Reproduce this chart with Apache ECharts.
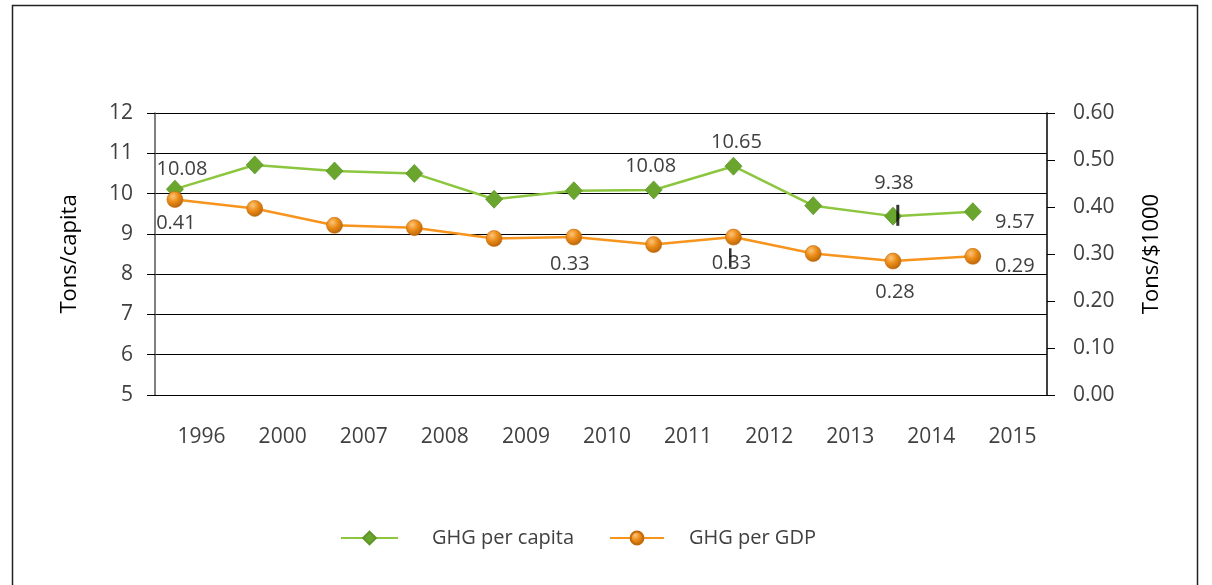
<!DOCTYPE html>
<html>
<head>
<meta charset="utf-8">
<script src="https://cdn.jsdelivr.net/npm/echarts@6/dist/echarts.min.js"></script>
<style>
html,body{margin:0;padding:0;background:#fff;}
#chart{width:1212px;height:585px;}
</style>
</head>
<body>
<div id="chart"></div>
<script>
// ---- data ----
const years = ['1996','2000','2007','2008','2009','2010','2011','2012','2013','2014','2015'];
const ghgPerCapita = [10.11, 10.71, 10.56, 10.50, 9.86, 10.07, 10.09, 10.68, 9.70, 9.44, 9.55];
const ghgPerGdp = [0.416, 0.397, 0.361, 0.356, 0.333, 0.336, 0.320, 0.336, 0.301, 0.285, 0.295];
const capitaLabels = ['10.08','','','','','','10.08','10.65','','9.38','9.57'];
const gdpLabels = ['0.41','','','','','0.33','','0.33','','0.28','0.29'];
const leftTicks = [5, 12, 1];
const rightTicks = [0, 0.6, 0.1];
// small black cursor marks visible in the source image (in data coordinates)
const capitaCursor = [[9.06, 9.46]];
const gdpCursor = [[6.96, 0.292]];

// ---- label placement (style, not data) ----
const capitaLabelOffset = {0:[7,-20], 6:[-3,-24], 7:[3,-24], 9:[1,-33], 10:[42,11]};
const gdpLabelOffset = {0:[1,24], 5:[-4,27], 7:[-2,26], 9:[2,31], 10:[42,10]};

const FONT = '"Open Sans", "Noto Sans", sans-serif';
const TXT = '#404040';

function buildData(values, labels, offsets){
  return values.map((v,i)=>{
    const item = {value:[i, v]};
    if (labels[i]) {
      item.label = {show:true, formatter:labels[i], position:'inside', offset:offsets[i],
        color:TXT, fontSize:20, fontFamily:FONT};
    }
    return item;
  });
}

const orangeBall = {type:'radial', x:0.38, y:0.32, r:0.75, colorStops:[
  {offset:0, color:'#fcc57a'},{offset:0.45, color:'#ec8c17'},{offset:1, color:'#b15f08'}]};

const chart = echarts.init(document.getElementById('chart'), null, {renderer:'canvas'});
chart.setOption({
  animation:false,
  backgroundColor:'#fff',
  graphic:[{type:'rect', shape:{x:12.5, y:5.5, width:1185, height:600},
    style:{fill:'none', stroke:'#222', lineWidth:1.5}, silent:true, z:-1}],
  grid:{left:155, right:165, top:113, bottom:190},
  legend:[{
    data:['GHG per capita'],
    left:335, top:523, itemWidth:57, itemHeight:16,
    textStyle:{color:TXT, fontSize:20, fontFamily:FONT, padding:[0,0,0,29]}
  },{
    data:['GHG per GDP'],
    left:604, top:523, itemWidth:54, itemHeight:16,
    textStyle:{color:TXT, fontSize:20, fontFamily:FONT, padding:[0,0,0,20]}
  }],
  xAxis:[{
    type:'category', data:years, boundaryGap:true,
    axisLine:{show:true, lineStyle:{color:'#000', width:1}},
    axisTick:{show:false},
    axisLabel:{color:TXT, fontSize:21, fontFamily:FONT, margin:32, padding:[0,0,0,12]},
    splitLine:{show:false}
  },{
    type:'value', min:-0.25, max:10.93, show:false
  }],
  yAxis:[{
    type:'value', min:leftTicks[0], max:leftTicks[1], interval:leftTicks[2], position:'left',
    name:'Tons/capita', nameLocation:'middle', nameGap:74, nameRotate:90,
    nameTextStyle:{color:'#000', fontSize:22, fontFamily:FONT},
    axisLine:{show:true, onZero:false, lineStyle:{color:'#555', width:1.5}},
    axisTick:{show:true, length:8, inside:false, lineStyle:{color:'#000'}},
    axisLabel:{color:TXT, fontSize:21, fontFamily:FONT, margin:22},
    splitLine:{show:true, lineStyle:{color:'#000', width:1}}
  },{
    type:'value', min:rightTicks[0], max:rightTicks[1], interval:rightTicks[2], position:'right',
    name:'Tons/$1000', nameLocation:'middle', nameGap:94, nameRotate:90,
    nameTextStyle:{color:'#000', fontSize:22, fontFamily:FONT},
    axisLine:{show:true, onZero:false, lineStyle:{color:'#000', width:1.5}},
    axisTick:{show:true, length:8, inside:false, lineStyle:{color:'#000'}},
    axisLabel:{color:TXT, fontSize:21, fontFamily:FONT, margin:26, formatter:v=>v.toFixed(2)},
    splitLine:{show:false}
  }],
  series:[{
    name:'GHG per capita', type:'line', xAxisIndex:1, yAxisIndex:0,
    data:buildData(ghgPerCapita, capitaLabels, capitaLabelOffset),
    symbol:'diamond', symbolSize:[17,18],
    lineStyle:{color:'#8cc63f', width:2.5},
    itemStyle:{color:'#6aa62e', borderColor:'#5e9628', borderWidth:0.8},
    z:3
  },{
    name:'GHG per GDP', type:'line', xAxisIndex:1, yAxisIndex:1,
    data:buildData(ghgPerGdp, gdpLabels, gdpLabelOffset),
    symbol:'circle', symbolSize:16,
    lineStyle:{color:'#f7941d', width:2.5},
    itemStyle:{color:orangeBall, borderColor:'#c46a0a', borderWidth:0.6},
    z:4
  },{
    name:'cursor1', type:'scatter', xAxisIndex:1, yAxisIndex:0, data:capitaCursor,
    symbol:'rect', symbolSize:[3,21], itemStyle:{color:'#000'}, z:6, silent:true
  },{
    name:'cursor2', type:'scatter', xAxisIndex:1, yAxisIndex:1, data:gdpCursor,
    symbol:'rect', symbolSize:[2.5,19], itemStyle:{color:'#000'}, z:6, silent:true
  }]
});
</script>
</body>
</html>
